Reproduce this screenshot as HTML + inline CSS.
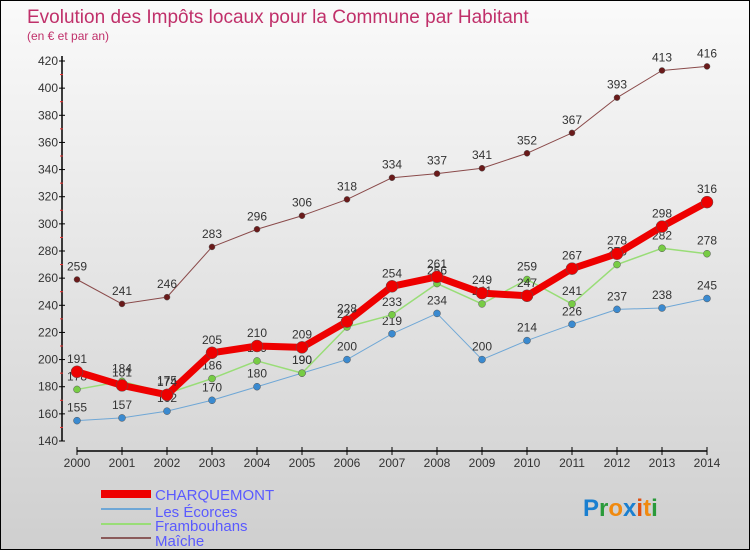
<!DOCTYPE html>
<html><head><meta charset="utf-8"><style>
body{margin:0}
#c{width:750px;height:550px;position:relative;overflow:hidden;border:1px solid #000;box-sizing:border-box;background:linear-gradient(#fafafa,#cfcfcf);font-family:"Liberation Sans",sans-serif}
</style></head><body>
<div id="c">
<svg id="s" width="750" height="550" style="position:absolute;left:0;top:0">
<text x="26" y="22" font-size="19" fill="#c0306a">Evolution des Impôts locaux pour la Commune par Habitant</text>
<text x="26" y="39" font-size="12" fill="#c0306a">(en € et par an)</text>
<g id="axes"></g><g id="series"></g>
<g>
<rect x="100" y="489" width="50" height="8" fill="#e00"/>
<text x="154" y="499" font-size="15" fill="#5a5aff">CHARQUEMONT</text>
<rect x="100" y="507" width="50" height="2" fill="#6fa7d6"/>
<text x="154" y="516" font-size="15" fill="#5a5aff">Les Écorces</text>
<rect x="100" y="522" width="50" height="2" fill="#99dd77"/>
<text x="154" y="530" font-size="15" fill="#5a5aff">Frambouhans</text>
<rect x="100" y="536" width="50" height="2" fill="#8a5a5a"/>
<text x="154" y="545" font-size="15" fill="#5a5aff">Maîche</text>
</g>
<text x="582" y="515" font-size="24" font-weight="bold"><tspan fill="#1a7fd0">P</tspan><tspan fill="#2a9a3a">r</tspan><tspan fill="#f08a10">o</tspan><tspan fill="#1a7fd0">x</tspan><tspan fill="#e05010">i</tspan><tspan fill="#f08a10">t</tspan><tspan fill="#2a9a3a">i</tspan></text>
</svg>
</div>
<script>
const years=[2000,2001,2002,2003,2004,2005,2006,2007,2008,2009,2010,2011,2012,2013,2014];
const charquemont=[191,181,174,205,210,209,228,254,261,249,247,267,278,298,316];
const ecorces=[155,157,162,170,180,190,200,219,234,200,214,226,237,238,245];
const frambouhans=[178,184,175,186,199,190,224,233,256,241,259,241,270,282,278];
const maiche=[259,241,246,283,296,306,318,334,337,341,352,367,393,413,416];
const yTicks=[140,160,180,200,220,240,260,280,300,320,340,360,380,400,420];
const NS="http://www.w3.org/2000/svg";
const X=i=>76+i*45, Y=v=>440-(v-140)*380/280;
function mk(t,a,p){const e=document.createElementNS(NS,t);for(const k in a)e.setAttribute(k,a[k]);p.appendChild(e);return e;}
const ax=document.getElementById('axes');
let yl=mk('line',{x1:61,y1:55,x2:61,y2:440,stroke:'#000','stroke-width':1.5},ax);

let xl=mk('line',{x1:76,y1:450,x2:706,y2:450,stroke:'#000','stroke-width':1.5},ax);

yTicks.forEach(v=>{mk('line',{x1:58,y1:Y(v),x2:64,y2:Y(v),stroke:'#000'},ax);
 if(v<420)mk('line',{x1:59,y1:Y(v+10),x2:62,y2:Y(v+10),stroke:'#e33'},ax);
 const t=mk('text',{x:57,y:Y(v)+4,'font-size':12,fill:'#333','text-anchor':'end'},ax);t.textContent=v;
 });
years.forEach((y,i)=>{mk('line',{x1:X(i),y1:446,x2:X(i),y2:454,stroke:'#000'},ax);
 const t=mk('text',{x:X(i),y:466,'font-size':12,fill:'#333','text-anchor':'middle'},ax);t.textContent=y;
 });
const sg=document.getElementById('series');
function series(d,name,col,w,r,dot){
 const g=mk('g',{},sg);
 mk('polyline',{points:d.map((v,i)=>X(i)+','+Y(v)).join(' '),fill:'none',stroke:col,'stroke-width':w,'stroke-linejoin':'round'},g);
 d.forEach((v,i)=>{const c=mk('circle',{cx:X(i),cy:Y(v),r:r,fill:dot,stroke:'#555','stroke-width':0.5},g);
  
  const t=mk('text',{x:X(i),y:Y(v)-9,'font-size':12,fill:'#333','text-anchor':'middle'},g);t.textContent=v;
  });
}
series(maiche,'maiche','#8a4a4a',1,3,'#6a1a1a');
series(ecorces,'ecorces','#6fa7d6',1,3.5,'#3a8ad0');
series(frambouhans,'frambouhans','#99dd77',1.5,3.5,'#77cc44');
series(charquemont,'charquemont','#ee0000',7,6,'#ee0000');
</script>
</body></html>
